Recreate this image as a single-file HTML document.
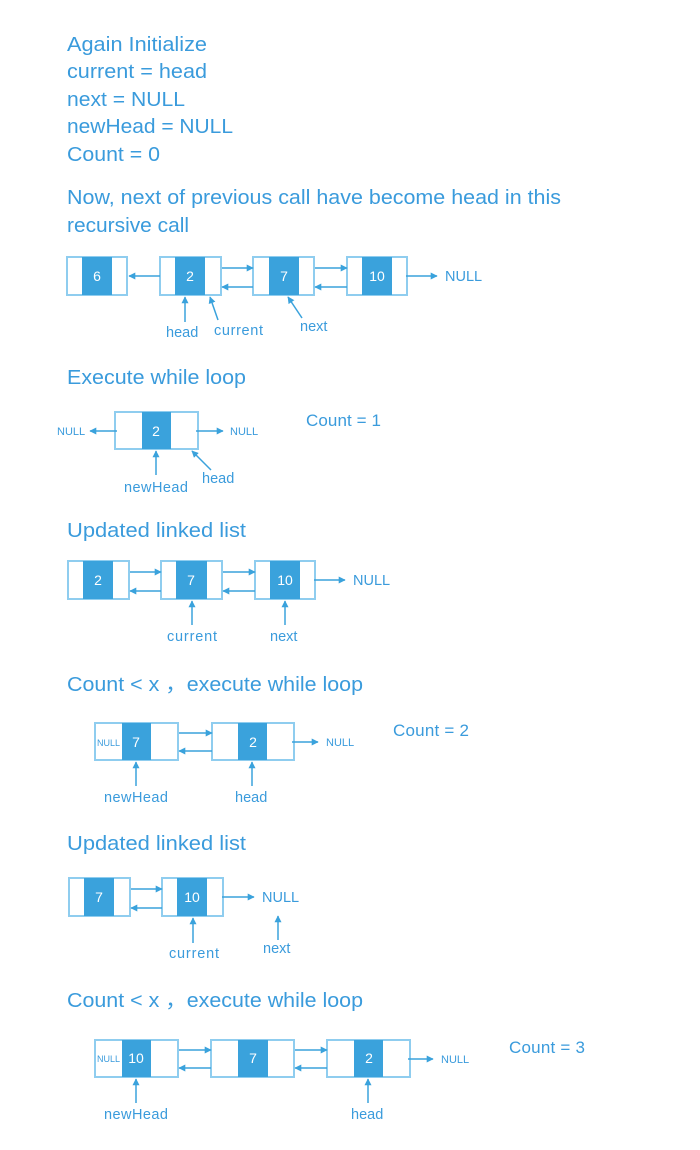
<!DOCTYPE html>
<html><head><meta charset="utf-8"><style>
body{margin:0;background:#fff;width:700px;height:1150px;overflow:hidden}
svg{display:block}
text{font-family:"Liberation Sans",sans-serif;fill:#3a9bdc}
.h{font-size:20px}
.l{font-size:14.5px}
.s{font-size:11px}
.n{font-size:14px;fill:#fff}
.b{fill:#fff;stroke:#8fcdef;stroke-width:2}
.f{fill:#3aa2dc}
.a{stroke:#3aa2dc;stroke-width:1.5;fill:none;marker-end:url(#m)}
</style></head><body>
<svg width="700" height="1150" xmlns="http://www.w3.org/2000/svg">
<defs><marker id="m" viewBox="0 0 10 10" refX="9" refY="5" markerWidth="7" markerHeight="7" orient="auto" markerUnits="userSpaceOnUse"><path d="M0,0L10,5L0,10z" fill="#3aa2dc"/></marker></defs>
<g class="h">
<text x="67" y="51" textLength="140" lengthAdjust="spacingAndGlyphs">Again Initialize</text>
<text x="67" y="78" textLength="140" lengthAdjust="spacingAndGlyphs">current = head</text>
<text x="67" y="106" textLength="118" lengthAdjust="spacingAndGlyphs">next = NULL</text>
<text x="67" y="133" textLength="166" lengthAdjust="spacingAndGlyphs">newHead = NULL</text>
<text x="67" y="161" textLength="93" lengthAdjust="spacingAndGlyphs">Count = 0</text>
<text x="67" y="204" textLength="494" lengthAdjust="spacingAndGlyphs">Now, next of previous call have become head in this</text>
<text x="67" y="232" textLength="122" lengthAdjust="spacingAndGlyphs">recursive call</text>
<text x="67" y="384" textLength="179" lengthAdjust="spacingAndGlyphs">Execute while loop</text>
<text x="67" y="537" textLength="179" lengthAdjust="spacingAndGlyphs">Updated linked list</text>
<text x="67" y="691" textLength="296" lengthAdjust="spacingAndGlyphs">Count &lt; x ，execute while loop</text>
<text x="67" y="850" textLength="179" lengthAdjust="spacingAndGlyphs">Updated linked list</text>
<text x="67" y="1007" textLength="296" lengthAdjust="spacingAndGlyphs">Count &lt; x ，execute while loop</text>
</g>
<!-- D1 -->
<rect class="b" x="67" y="257" width="60" height="38"/><rect class="f" x="82" y="257" width="30" height="38"/><text class="n" x="97" y="281" text-anchor="middle">6</text>
<rect class="b" x="160" y="257" width="61" height="38"/><rect class="f" x="175" y="257" width="30" height="38"/><text class="n" x="190" y="281" text-anchor="middle">2</text>
<rect class="b" x="253" y="257" width="61" height="38"/><rect class="f" x="269" y="257" width="30" height="38"/><text class="n" x="284" y="281" text-anchor="middle">7</text>
<rect class="b" x="347" y="257" width="60" height="38"/><rect class="f" x="362" y="257" width="30" height="38"/><text class="n" x="377" y="281" text-anchor="middle">10</text>
<line class="a" x1="160" y1="276" x2="129" y2="276"/>
<line class="a" x1="222" y1="268" x2="253" y2="268"/><line class="a" x1="253" y1="287" x2="222" y2="287"/>
<line class="a" x1="315" y1="268" x2="347" y2="268"/><line class="a" x1="347" y1="287" x2="315" y2="287"/>
<line class="a" x1="406" y1="276" x2="437" y2="276"/><text class="l" x="445" y="281">NULL</text>
<line class="a" x1="185" y1="322" x2="185" y2="297"/><text class="l" x="166" y="337">head</text>
<line class="a" x1="218" y1="320" x2="210" y2="297"/><text class="l" x="214" y="335" textLength="49">current</text>
<line class="a" x1="302" y1="318" x2="288" y2="297"/><text class="l" x="300" y="331">next</text>
<!-- D2 -->
<rect class="b" x="115" y="412" width="83" height="37"/><rect class="f" x="142" y="412" width="29" height="37"/><text class="n" x="156" y="436" text-anchor="middle">2</text>
<line class="a" x1="117" y1="431" x2="90" y2="431"/><text class="s" x="57" y="435">NULL</text>
<line class="a" x1="196" y1="431" x2="223" y2="431"/><text class="s" x="230" y="435">NULL</text>
<line class="a" x1="156" y1="475" x2="156" y2="451"/><text class="l" x="124" y="492" textLength="64">newHead</text>
<line class="a" x1="211" y1="470" x2="192" y2="451"/><text class="l" x="202" y="483">head</text>
<text class="l" x="306" y="426" style="font-size:17px" textLength="75">Count = 1</text>
<!-- D3 -->
<rect class="b" x="68" y="561" width="61" height="38"/><rect class="f" x="83" y="561" width="30" height="38"/><text class="n" x="98" y="585" text-anchor="middle">2</text>
<rect class="b" x="161" y="561" width="61" height="38"/><rect class="f" x="176" y="561" width="31" height="38"/><text class="n" x="191" y="585" text-anchor="middle">7</text>
<rect class="b" x="255" y="561" width="60" height="38"/><rect class="f" x="270" y="561" width="30" height="38"/><text class="n" x="285" y="585" text-anchor="middle">10</text>
<line class="a" x1="130" y1="572" x2="161" y2="572"/><line class="a" x1="161" y1="591" x2="130" y2="591"/>
<line class="a" x1="223" y1="572" x2="255" y2="572"/><line class="a" x1="255" y1="591" x2="223" y2="591"/>
<line class="a" x1="314" y1="580" x2="345" y2="580"/><text class="l" x="353" y="585">NULL</text>
<line class="a" x1="192" y1="625" x2="192" y2="601"/><text class="l" x="167" y="641" textLength="50">current</text>
<line class="a" x1="285" y1="625" x2="285" y2="601"/><text class="l" x="270" y="641">next</text>
<!-- D4 -->
<rect class="b" x="95" y="723" width="83" height="37"/><rect class="f" x="122" y="723" width="29" height="37"/><text class="n" x="136" y="747" text-anchor="middle">7</text><text class="s" x="97" y="746" style="font-size:9px">NULL</text>
<rect class="b" x="212" y="723" width="82" height="37"/><rect class="f" x="238" y="723" width="29" height="37"/><text class="n" x="253" y="747" text-anchor="middle">2</text>
<line class="a" x1="179" y1="733" x2="212" y2="733"/><line class="a" x1="212" y1="751" x2="179" y2="751"/>
<line class="a" x1="292" y1="742" x2="318" y2="742"/><text class="s" x="326" y="746">NULL</text>
<line class="a" x1="136" y1="786" x2="136" y2="762"/><text class="l" x="104" y="802" textLength="64">newHead</text>
<line class="a" x1="252" y1="786" x2="252" y2="762"/><text class="l" x="235" y="802">head</text>
<text class="l" x="393" y="736" style="font-size:17px" textLength="76">Count = 2</text>
<!-- D5 -->
<rect class="b" x="69" y="878" width="61" height="38"/><rect class="f" x="84" y="878" width="30" height="38"/><text class="n" x="99" y="902" text-anchor="middle">7</text>
<rect class="b" x="162" y="878" width="61" height="38"/><rect class="f" x="177" y="878" width="30" height="38"/><text class="n" x="192" y="902" text-anchor="middle">10</text>
<line class="a" x1="131" y1="889" x2="162" y2="889"/><line class="a" x1="162" y1="908" x2="131" y2="908"/>
<line class="a" x1="222" y1="897" x2="254" y2="897"/><text class="l" x="262" y="902">NULL</text>
<line class="a" x1="278" y1="940" x2="278" y2="916"/><text class="l" x="263" y="953">next</text>
<line class="a" x1="193" y1="943" x2="193" y2="918"/><text class="l" x="169" y="958" textLength="50">current</text>
<!-- D6 -->
<rect class="b" x="95" y="1040" width="83" height="37"/><rect class="f" x="122" y="1040" width="29" height="37"/><text class="n" x="136" y="1063" text-anchor="middle">10</text><text class="s" x="97" y="1062" style="font-size:9px">NULL</text>
<rect class="b" x="211" y="1040" width="83" height="37"/><rect class="f" x="238" y="1040" width="30" height="37"/><text class="n" x="253" y="1063" text-anchor="middle">7</text>
<rect class="b" x="327" y="1040" width="83" height="37"/><rect class="f" x="354" y="1040" width="29" height="37"/><text class="n" x="369" y="1063" text-anchor="middle">2</text>
<line class="a" x1="179" y1="1050" x2="211" y2="1050"/><line class="a" x1="211" y1="1068" x2="179" y2="1068"/>
<line class="a" x1="295" y1="1050" x2="327" y2="1050"/><line class="a" x1="327" y1="1068" x2="295" y2="1068"/>
<line class="a" x1="408" y1="1059" x2="433" y2="1059"/><text class="s" x="441" y="1063">NULL</text>
<line class="a" x1="136" y1="1103" x2="136" y2="1079"/><text class="l" x="104" y="1119" textLength="64">newHead</text>
<line class="a" x1="368" y1="1103" x2="368" y2="1079"/><text class="l" x="351" y="1119">head</text>
<text class="l" x="509" y="1053" style="font-size:17px" textLength="76">Count = 3</text>
</svg>
</body></html>
